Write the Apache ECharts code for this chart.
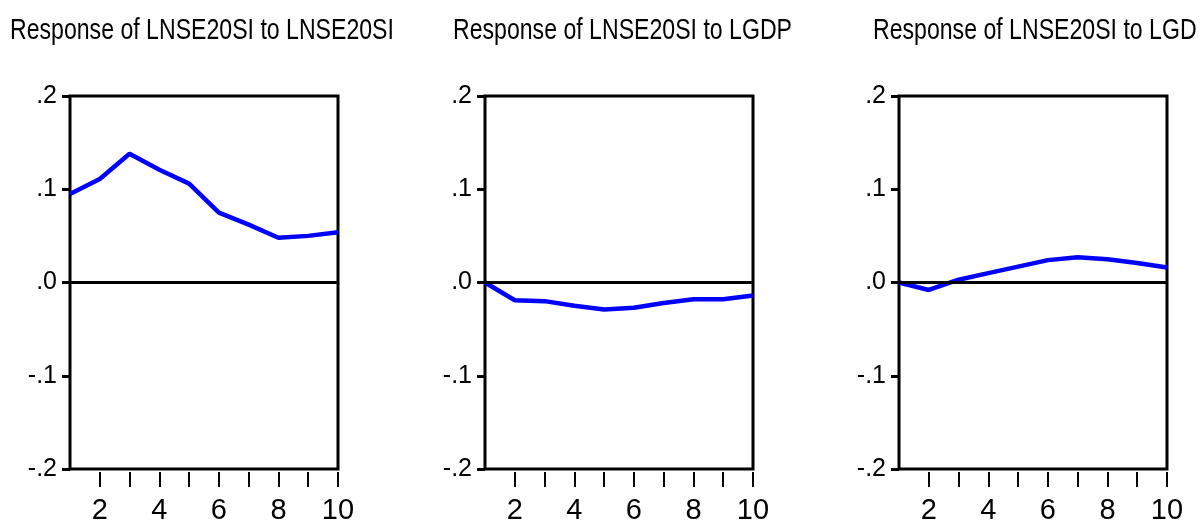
<!DOCTYPE html>
<html>
<head>
<meta charset="utf-8">
<script src="https://cdn.jsdelivr.net/npm/echarts@6/dist/echarts.min.js"></script>
<style>
  html, body { margin: 0; padding: 0; background: #fff; }
  #chart { width: 1202px; height: 522px; }
</style>
</head>
<body>
<div id="chart"></div>
<script>
// impulse responses, periods 1..10
const periods = [1, 2, 3, 4, 5, 6, 7, 8, 9, 10];
const respOwn = [0.095, 0.111, 0.138, 0.121, 0.106, 0.075, 0.062, 0.048, 0.050, 0.054];
const respGdp = [0.000, -0.019, -0.020, -0.025, -0.029, -0.027, -0.022, -0.018, -0.018, -0.014];
const respGd = [0.000, -0.008, 0.003, 0.010, 0.017, 0.024, 0.027, 0.025, 0.021, 0.016];
const titles = [
    'Response of LNSE20SI to LNSE20SI',
    'Response of LNSE20SI to LGDP',
    'Response of LNSE20SI to LGD'
];
const yTicks = [-0.2, -0.1, 0, 0.1, 0.2];

const FONT = "'Liberation Sans Narrow', 'Arial Narrow', 'Liberation Sans', sans-serif";
const chart = echarts.init(document.getElementById('chart'));

const panels = [
    { left: 70, titleLeft: 10, data: respOwn },
    { left: 485, titleLeft: 453, data: respGdp },
    { left: 899, titleLeft: 873, data: respGd }
];

const fmtY = (v) => v.toFixed(1).replace('0.', '.');

const option = {
    animation: false,
    // titles drawn as text squeezed horizontally (no narrow font installed)
    graphic: panels.map((p, i) => ({
        type: 'text',
        left: p.titleLeft,
        top: 16,
        scaleX: 0.77,
        style: {
            text: titles[i],
            fontFamily: FONT,
            fontSize: 30,
            fill: '#000'
        }
    })),
    grid: panels.map((p) => ({
        left: p.left,
        top: 96,
        width: 268,
        height: 373,
        outerBoundsMode: 'none',
        show: true,
        borderColor: '#000',
        borderWidth: 3,
        backgroundColor: '#fff'
    })),
    xAxis: panels.map((p, i) => ({
        type: 'value',
        gridIndex: i,
        min: 1,
        max: 10,
        interval: 1,
        offset: 3,
        axisLine: { show: false, onZero: false },
        axisTick: { show: true, length: 15, lineStyle: { color: '#000', width: 2 } },
        splitLine: { show: false },
        axisLabel: {
            margin: 24,
            fontFamily: FONT,
            fontSize: 29,
            color: '#000',
            showMinLabel: false,
            formatter: (v) => (v % 2 === 0 ? String(v) : '')
        }
    })),
    yAxis: panels.map((p, i) => ({
        type: 'value',
        gridIndex: i,
        min: yTicks[0],
        max: yTicks[yTicks.length - 1],
        interval: 0.1,
        axisLine: { show: false },
        axisTick: { show: true, length: 8, lineStyle: { color: '#000', width: 3 } },
        splitLine: { show: false },
        axisLabel: {
            margin: 13,
            padding: [8, 0, 0, 0],
            fontFamily: FONT,
            fontSize: 25,
            color: '#000',
            formatter: fmtY
        }
    })),
    series: panels.map((p, i) => ({
        type: 'line',
        xAxisIndex: i,
        yAxisIndex: i,
        data: periods.map((x, k) => [x, p.data[k]]),
        symbol: 'none',
        lineStyle: { color: '#0000ff', width: 4.5 },
        markLine: {
            silent: true,
            symbol: 'none',
            label: { show: false },
            lineStyle: { color: '#000', width: 3, type: 'solid' },
            data: [{ yAxis: 0 }]
        },
        z: 3
    }))
};

chart.setOption(option);
</script>
</body>
</html>
